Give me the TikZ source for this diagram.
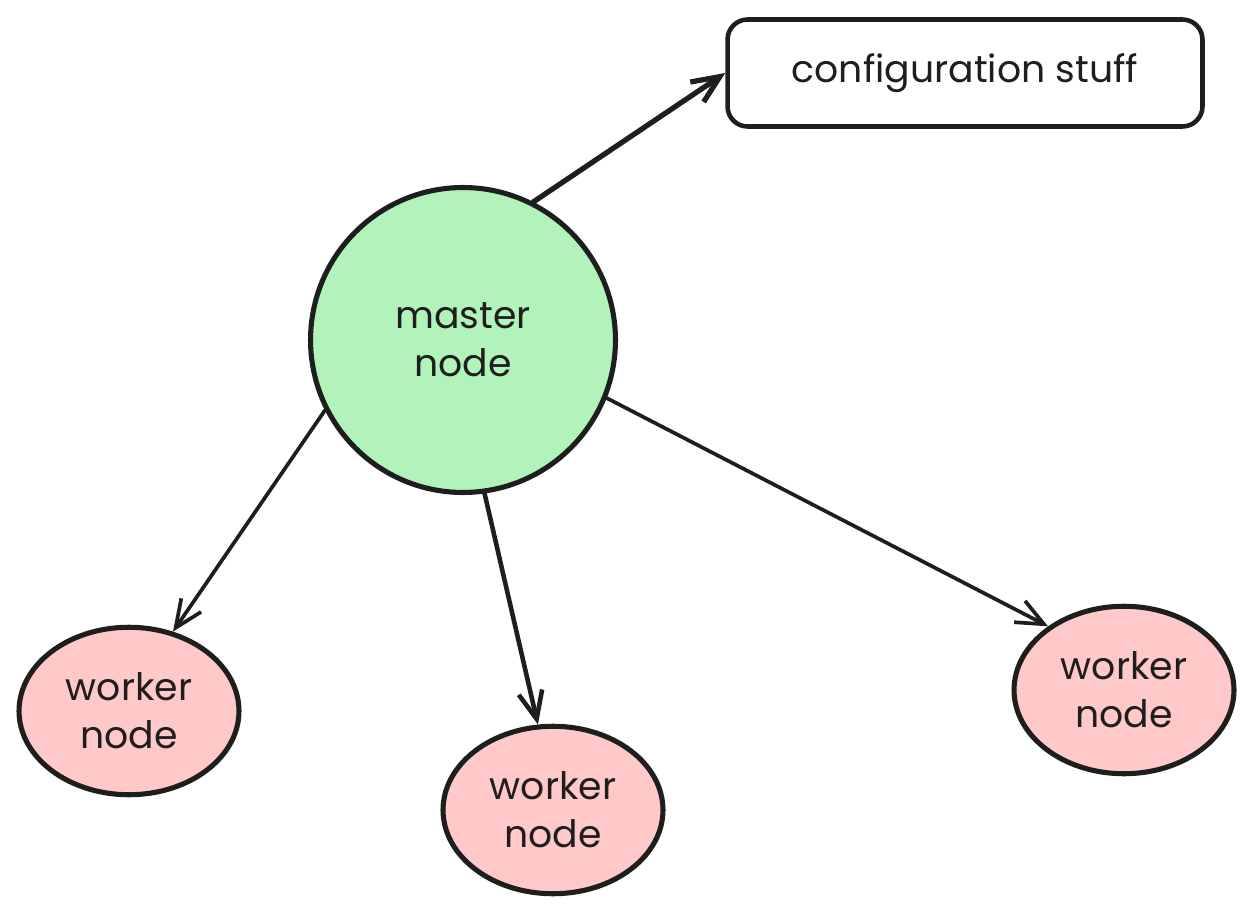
\documentclass[tikz,border=0pt]{standalone}
\usepackage{fontspec}
\setmainfont{Poppins}
\usetikzlibrary{shapes.geometric,arrows.meta}
\definecolor{mastergreen}{HTML}{B2F2BB}
\definecolor{workerred}{HTML}{FFC9C9}
\definecolor{ink}{HTML}{1E1E1E}

\begin{document}
\begin{tikzpicture}[x=0.02cm, y=-0.02cm, color=ink, line width=2.1pt,
	label/.style = {align=center, font=\fontsize{21.5}{27.5}\selectfont},
	main/.style = {draw, circle, label, line width=2.9pt, fill=mastergreen, minimum size=6.1cm},
	worker/.style = {draw, ellipse, label, line width=2.9pt, fill=workerred, minimum width=4.4cm, minimum height=3.35cm},
	box/.style = {draw, rectangle, label, line width=2.6pt, rounded corners=0.4cm, minimum width=9.5cm, minimum height=2.14cm},
	arr/.style = {-{Straight Barb[length=5.5mm,width=4.8mm]}, line cap=round}]
	\useasboundingbox (0,0) rectangle (1254,915);

	\node[main] (master) at (463,340) {master\\node};
	\node[box] (config) at (965,73) {configuration stuff};
	\node[worker] (w1) at (129,711) {worker\\node};
	\node[worker] (w2) at (553,810) {worker\\node};
	\node[worker] (w3) at (1124,690) {worker\\node};

	\draw[arr, line width=3pt] (master.63) -- (config.west);
	\draw[arr] (master.207) -- (w1.61);
	\draw[arr, line width=2.6pt] (master.278) -- (w2.100);
	\draw[arr] (master.338) -- (w3.140);
\end{tikzpicture}
\end{document}
